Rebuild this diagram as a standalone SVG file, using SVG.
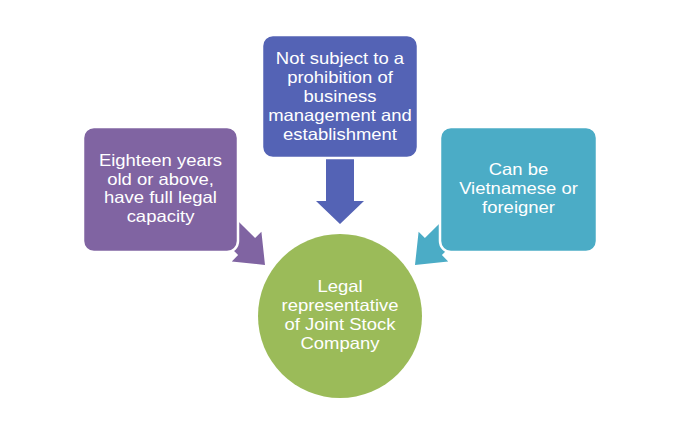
<svg xmlns="http://www.w3.org/2000/svg" width="680" height="436" viewBox="0 0 680 436">
<style>
.t{font-family:"Liberation Sans",Arial,sans-serif;font-size:16.5px;fill:#ffffff;text-anchor:middle}
.box{stroke:#ffffff;stroke-width:2.5}
</style>
<rect width="680" height="436" fill="#ffffff"/>
<g id="connectors">
<polygon fill="#8064A2" points="230.4,213.4 255.1,238.1 261.4,231.8 265,265 231.8,261.4 238.1,255.1 213.4,230.4"/>
<polygon fill="#4BACC6" points="449.6,213.4 424.9,238.1 418.6,231.8 415,265 448.2,261.4 441.9,255.1 466.6,230.4"/>
<polygon fill="#5463B5" points="326,150 354,150 354,201 364,201 340,224 316,201 326,201"/>
</g>
<g id="node-age">
<rect class="box" x="83" y="127" width="155" height="125" rx="11" fill="#8064A2"/>
<g transform="translate(160.5 0) scale(1.12 1)">
<text class="t" x="0" y="166.5">Eighteen years</text>
<text class="t" x="0" y="185">old or above,</text>
<text class="t" x="0" y="203.5">have full legal</text>
<text class="t" x="0" y="222">capacity</text>
</g>
</g>
<g id="node-prohibition">
<rect class="box" x="262" y="35" width="156" height="123" rx="11" fill="#5463B5"/>
<g transform="translate(340 0) scale(1.12 1)">
<text class="t" x="0" y="64">Not subject to a</text>
<text class="t" x="0" y="83">prohibition of</text>
<text class="t" x="0" y="102">business</text>
<text class="t" x="0" y="121">management and</text>
<text class="t" x="0" y="140">establishment</text>
</g>
</g>
<g id="node-nationality">
<rect class="box" x="440" y="127" width="157" height="125" rx="11" fill="#4BACC6"/>
<g transform="translate(518.5 0) scale(1.12 1)">
<text class="t" x="0" y="175">Can be</text>
<text class="t" x="0" y="194">Vietnamese or</text>
<text class="t" x="0" y="213">foreigner</text>
</g>
</g>
<g id="node-center">
<circle cx="340" cy="316" r="82" fill="#9BBB59"/>
<g transform="translate(340 0) scale(1.12 1)">
<text class="t" x="0" y="292">Legal</text>
<text class="t" x="0" y="311">representative</text>
<text class="t" x="0" y="330">of Joint Stock</text>
<text class="t" x="0" y="349">Company</text>
</g>
</g>
</svg>
